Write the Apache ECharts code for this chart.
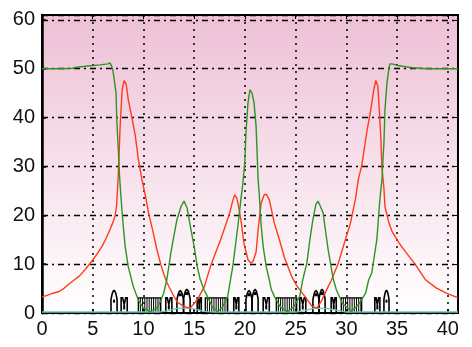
<!DOCTYPE html>
<html><head><meta charset="utf-8">
<script src="https://cdn.jsdelivr.net/npm/echarts@6/dist/echarts.min.js"></script>
<style>html,body{margin:0;padding:0;background:#fff}#c{width:472px;height:347px}</style>
</head><body><div id="c"></div>
<script>
// ---- data ----
const xTicks = [0,5,10,15,20,25,30,35,40];
const yTicks = [0,10,20,30,40,50,60];
const greenData = [
[0,50.0],[1,50.0],[2,50.0],[3,50.1],[3.4,50.3],[4.8,50.6],[5.7,50.8],[6.5,51.0],[6.7,51.2],[6.85,50.6],
[6.97,49.8],[7.1,48.1],[7.3,45.0],[7.37,39.6],[7.53,33.0],[7.63,28.5],[7.77,24.0],[8.0,18.0],[8.2,13.6],
[8.5,9.5],[9.0,5.4],[9.5,2.6],[10.0,1.0],[10.7,0.3],[11.3,1.0],[11.7,2.5],[12.0,4.1],[12.3,6.8],[12.7,12.3],
[13.0,15.8],[13.3,19.1],[13.7,21.8],[14.0,22.9],[14.3,21.5],[14.6,18.0],[15.0,13.6],[15.3,9.5],[15.6,6.8],
[16.0,4.6],[16.3,3.4],[16.8,1.2],[17.3,0.3],[17.8,1.2],[18.3,3.4],[18.8,9.5],[19.3,17.7],[19.6,23.2],
[19.8,26.6],[20.0,31.4],[20.1,36.9],[20.3,43.0],[20.5,45.7],[20.7,45.0],[20.9,43.0],[21.1,38.2],[21.2,32.8],
[21.3,27.3],[21.4,24.6],[21.6,18.0],[21.8,13.6],[22.1,9.5],[22.4,6.8],[22.6,4.8],[22.9,3.4],[23.5,1.2],
[24.2,0.3],[24.8,1.2],[25.4,3.4],[25.7,6.8],[26.1,10.2],[26.4,15.0],[26.7,19.1],[27.0,22.3],[27.2,22.9],
[27.4,22.0],[27.7,20.5],[28.2,13.0],[28.7,7.0],[29.0,4.8],[29.6,2.0],[30.5,0.3],[31.3,2.0],[31.9,4.1],
[32.2,6.8],[32.5,8.2],[33.0,15.0],[33.3,23.2],[33.5,27.3],[33.7,34.8],[33.8,41.6],[34.0,47.1],[34.2,50.2],
[34.3,51.0],[34.5,51.0],[35.2,50.6],[36.5,50.2],[38.0,50.0],[41.0,50.0]
];
const redData = [
[0,3.3],[0.5,3.6],[1.0,4.0],[1.7,4.4],[2.2,5.1],[2.7,6.0],[3.2,6.8],[3.7,7.6],[4.3,9.0],[4.9,10.6],
[5.4,12.0],[5.9,13.6],[6.3,15.2],[6.7,17.1],[7.0,18.6],[7.2,19.8],[7.35,22.0],[7.5,27.3],[7.7,38.2],
[7.9,45.7],[8.1,47.6],[8.3,46.8],[8.5,43.7],[8.9,39.6],[9.2,36.2],[9.5,31.4],[9.85,27.3],[10.2,23.9],
[10.5,20.5],[10.9,17.0],[11.3,13.2],[11.7,10.0],[12.0,8.0],[12.3,6.3],[12.8,4.2],[13.3,2.3],[14.0,1.3],
[14.6,1.0],[15.3,2.7],[16.0,5.4],[16.6,9.5],[17.1,12.3],[17.6,15.0],[18.1,18.0],[18.5,20.5],[18.8,23.0],
[19.0,24.2],[19.2,23.5],[19.4,21.5],[19.6,19.1],[19.9,14.3],[20.3,10.9],[20.6,10.2],[20.8,10.6],[21.1,12.5],
[21.3,17.0],[21.6,22.5],[21.9,24.2],[22.1,24.3],[22.4,23.2],[22.9,18.4],[23.4,15.0],[23.9,11.3],[24.6,7.5],
[25.1,5.6],[25.9,3.4],[26.6,1.4],[27.1,1.0],[27.6,2.7],[28.2,5.4],[28.5,6.6],[29.2,10.2],[29.9,15.0],
[30.4,18.4],[30.9,23.4],[31.2,27.6],[31.5,30.0],[32.0,36.9],[32.4,41.6],[32.7,45.7],[32.9,47.6],[33.1,46.4],
[33.3,39.6],[33.4,35.5],[33.5,30.0],[33.7,25.5],[33.8,21.8],[34.2,18.4],[34.5,16.7],[35.2,14.3],[35.8,12.6],
[36.8,9.9],[37.8,6.8],[38.8,5.2],[39.8,4.1],[41.0,3.1]
];
const cyanData = [
[0,0.2],[11.5,0.2],[12.5,0.5],[13.2,0.9],[13.6,1.0],[14.6,1.0],[15.4,0.6],[16.2,0.3],[17,0.2],
[25,0.2],[25.9,0.5],[26.6,0.9],[27.2,1.0],[28.2,0.9],[29.2,0.5],[30,0.2],[41,0.2]
];
// structure glyphs: [kind, x0, x1, height]; kind 0=arch, 1=double arch, 2=M, 3=hatched block
const arches = [[0,6.8,7.4,4.6],[0,33.7,34.2,4.6]];
const doubleArches = [[1,13.3,14.6,4.8],[1,20.1,21.3,4.8],[1,26.7,27.9,4.8]];
const mShapes = [[2,7.8,8.4,3.1],[2,12.2,12.8,3.1],[2,15.3,15.7,3.1],[2,18.9,19.4,3.1],[2,21.8,22.4,3.1],[2,25.4,26.0,3.1],[2,28.5,29.0,3.1],[2,32.8,33.3,3.1]];
const hatched = [[3,9.5,11.7,3.1],[3,16.1,18.3,3.1],[3,23.1,25.1,3.1],[3,29.5,31.5,3.1]];
const structure = [].concat(arches, doubleArches, mShapes, hatched);

// ---- chart ----
const chart = echarts.init(document.getElementById('c'), null, {renderer:'canvas'});
const font = 'Liberation Sans';

function archPts(api, x0, x1, h){
  const pts = [];
  const xm = (x0+x1)/2, hw = (x1-x0)/2;
  pts.push(api.coord([x0,0]));
  pts.push(api.coord([x0,h*0.6]));
  const steps = 8;
  for(let i=0;i<=steps;i++){
    const t = -1 + 2*i/steps;
    const yy = h*0.6 + h*0.4*(1-t*t);
    pts.push(api.coord([xm + t*hw, yy]));
  }
  pts.push(api.coord([x1,0]));
  return pts;
}
function renderStructure(params, api){
  const kind = api.value(0), x0 = api.value(1), x1 = api.value(2), h = api.value(3);
  const st = {stroke:'#000', fill:null, lineWidth:1.6};
  const children = [];
  if(kind===0){
    children.push({type:'polyline', shape:{points:archPts(api,x0,x1,h)}, style:st});
    const c = api.coord([(x0+x1)/2, h*0.55]);
    children.push({type:'rect', shape:{x:c[0]-1,y:c[1]-1,width:2,height:3}, style:{fill:'#000'}});
  } else if(kind===1){
    const xm=(x0+x1)/2;
    children.push({type:'polyline', shape:{points:archPts(api,x0,xm,h*0.95)}, style:st});
    children.push({type:'polyline', shape:{points:archPts(api,xm,x1,h)}, style:st});
    const c1 = api.coord([(x0+xm)/2, h*0.8]);
    const c2 = api.coord([(xm+x1)/2, h*0.85]);
    children.push({type:'rect', shape:{x:c1[0]-1.5,y:c1[1]-1,width:3,height:3}, style:{fill:'#000'}});
    children.push({type:'rect', shape:{x:c2[0]-1.5,y:c2[1]-1,width:3,height:3}, style:{fill:'#000'}});
  } else if(kind===2){
    const w=x1-x0, xm=(x0+x1)/2;
    const pts=[[x0,0],[x0,h],[x0+w*0.25,h],[xm,h*0.55],[x1-w*0.25,h],[x1,h],[x1,0]].map(p=>api.coord(p));
    children.push({type:'polyline', shape:{points:pts}, style:st});
    const c = api.coord([xm, h*0.5]);
    children.push({type:'rect', shape:{x:c[0]-1,y:c[1],width:2,height:4}, style:{fill:'#000'}});
  } else {
    const p0 = api.coord([x0,0]), p1 = api.coord([x1,h]);
    children.push({type:'rect', shape:{x:p0[0],y:p1[1],width:p1[0]-p0[0],height:p0[1]-p1[1]}, style:{stroke:'#000',fill:null,lineWidth:1.4}});
    for(let px=p0[0]+2; px<p1[0]; px+=2.2){
      children.push({type:'line', shape:{x1:px,y1:p1[1],x2:px,y2:p0[1]}, style:{stroke:'#000',lineWidth:1}});
    }
  }
  return {type:'group', children};
}

const option = {
  animation:false,
  grid:{left:42, right:14, top:15, bottom:34, show:true, borderColor:'#000', borderWidth:2,
    backgroundColor:{type:'linear',x:0,y:0,x2:0,y2:1,colorStops:[{offset:0,color:'#eec0d6'},{offset:1,color:'#ffffff'}]}},
  xAxis:[
    {type:'value', min:0, max:41, interval:5,
     axisLine:{show:true, onZero:false, lineStyle:{color:'#000', width:2}},
     axisTick:{show:true, inside:true, length:4, lineStyle:{color:'#000', width:1.5}},
     axisLabel:{color:'#111', fontFamily:font, fontSize:20, margin:6,
       formatter:v=>xTicks.indexOf(v)>=0?String(v):''},
     splitLine:{show:true, lineStyle:{color:'#000', width:1.5, type:[2,5]}}},
    {type:'value', min:0, max:41, interval:5, position:'top',
     axisLine:{show:true, onZero:false, lineStyle:{color:'#000', width:2}},
     axisTick:{show:true, inside:true, length:4, lineStyle:{color:'#000'}},
     axisLabel:{show:false}, splitLine:{show:false}}
  ],
  yAxis:[
    {type:'value', min:0, max:61, interval:10,
     axisLine:{show:true, onZero:false, lineStyle:{color:'#000', width:2.5}},
     axisTick:{show:true, inside:true, length:4, lineStyle:{color:'#000', width:1.5}},
     axisLabel:{color:'#111', fontFamily:font, fontSize:20, margin:7,
       formatter:v=>yTicks.indexOf(v)>=0?String(v):''},
     splitLine:{show:true, lineStyle:{color:'#000', width:1.3, type:[6,4,2,4]}}},
    {type:'value', min:0, max:61, interval:10, position:'right',
     axisLine:{show:true, onZero:false, lineStyle:{color:'#000', width:2}},
     axisTick:{show:true, inside:true, length:4, lineStyle:{color:'#000'}},
     axisLabel:{show:false}, splitLine:{show:false}}
  ],
  series:[
    {type:'custom', coordinateSystem:'cartesian2d', renderItem:renderStructure, data:structure,
     encode:{x:[1,2], y:3}, z:2, silent:true, clip:true},
    {type:'line', data:cyanData, showSymbol:false, lineStyle:{color:'#66c8bc', width:1.3}, z:3},
    {type:'line', data:redData, showSymbol:false, lineStyle:{color:'#ff3a1a', width:1.4}, z:4},
    {type:'line', data:greenData, showSymbol:false, lineStyle:{color:'#2e9422', width:1.4}, z:5}
  ]
};
chart.setOption(option);
</script></body></html>
